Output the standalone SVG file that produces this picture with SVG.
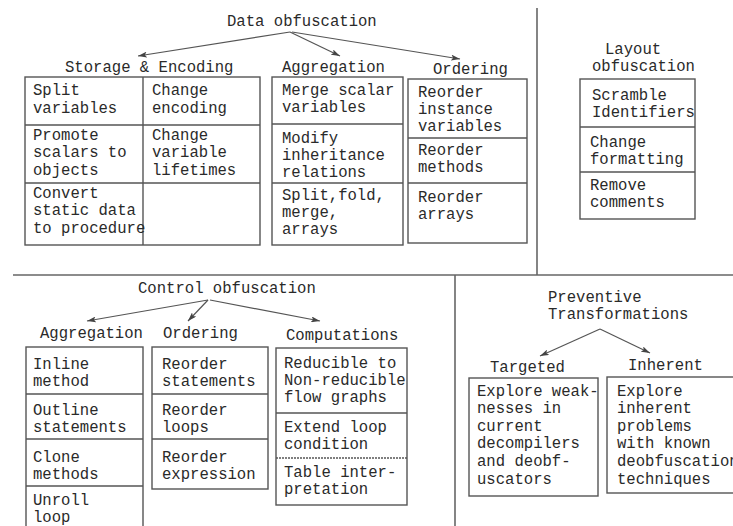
<svg xmlns="http://www.w3.org/2000/svg" width="733" height="526" viewBox="0 0 733 526">
<defs>
<style>
.t{font-family:"Liberation Mono","DejaVu Sans Mono",monospace;font-size:15.6px;fill:#2a2a2a}
.b{fill:none;stroke:#555;stroke-width:1.4}
.l{stroke:#555;stroke-width:1.4;fill:none}
.d{stroke:#666;stroke-width:1.6;fill:none}
.c{stroke:#555;stroke-width:1.2;fill:none;marker-end:url(#ah)}
</style>
<marker id="ah" markerUnits="userSpaceOnUse" markerWidth="9" markerHeight="6" refX="9" refY="3" orient="auto">
<path d="M0,0 L9,3 L0,6 L2,3 z" fill="#444"/>
</marker>
</defs>
<rect width="733" height="526" fill="#fff"/>
<g id="dividers">
<line class="d" x1="537" y1="8" x2="537" y2="275"/>
<line class="d" x1="13" y1="275" x2="733" y2="275"/>
<line class="d" x1="455" y1="275" x2="455" y2="526"/>
</g>
<g id="connectors">
<line class="c" x1="290" y1="32" x2="138" y2="56"/>
<line class="c" x1="290" y1="32" x2="340" y2="56"/>
<line class="c" x1="292" y1="32" x2="460" y2="59"/>
<line class="c" x1="208" y1="300" x2="87" y2="321"/>
<line class="c" x1="208" y1="300" x2="188" y2="321"/>
<line class="c" x1="210" y1="300" x2="320" y2="321"/>
<line class="c" x1="600" y1="329" x2="540" y2="356"/>
<line class="c" x1="600" y1="329" x2="650" y2="353"/>
</g>
<g id="data-obfuscation"><text class="t" x="227" y="26">Data obfuscation</text></g>
<g id="storage-encoding">
<text class="t" x="65" y="72">Storage &amp; Encoding</text>
<rect class="b" x="25" y="77" width="235" height="168"/>
<line class="l" x1="143" y1="77" x2="143" y2="245"/>
<line class="l" x1="25" y1="125" x2="260" y2="125"/>
<line class="l" x1="25" y1="183" x2="260" y2="183"/>
<text class="t" x="33" y="95">Split</text><text class="t" x="33" y="113">variables</text>
<text class="t" x="152" y="95">Change</text><text class="t" x="152" y="113">encoding</text>
<text class="t" x="33" y="140">Promote</text><text class="t" x="33" y="157">scalars to</text><text class="t" x="33" y="175">objects</text>
<text class="t" x="152" y="140">Change</text><text class="t" x="152" y="157">variable</text><text class="t" x="152" y="175">lifetimes</text>
<text class="t" x="33" y="198">Convert</text><text class="t" x="33" y="215">static data</text><text class="t" x="33" y="233">to procedure</text>
</g>
<g id="data-aggregation">
<text class="t" x="282" y="72">Aggregation</text>
<rect class="b" x="272" y="77" width="131" height="168"/>
<line class="l" x1="272" y1="124" x2="403" y2="124"/>
<line class="l" x1="272" y1="183" x2="403" y2="183"/>
<text class="t" x="282" y="95">Merge scalar</text><text class="t" x="282" y="112">variables</text>
<text class="t" x="282" y="143">Modify</text><text class="t" x="282" y="160">inheritance</text><text class="t" x="282" y="177">relations</text>
<text class="t" x="282" y="200">Split,fold,</text><text class="t" x="282" y="217">merge,</text><text class="t" x="282" y="234">arrays</text>
</g>
<g id="data-ordering">
<text class="t" x="433" y="74">Ordering</text>
<rect class="b" x="408" y="79" width="119" height="164"/>
<line class="l" x1="408" y1="138" x2="527" y2="138"/>
<line class="l" x1="408" y1="183" x2="527" y2="183"/>
<text class="t" x="418" y="97">Reorder</text><text class="t" x="418" y="114">instance</text><text class="t" x="418" y="131">variables</text>
<text class="t" x="418" y="155">Reorder</text><text class="t" x="418" y="172">methods</text>
<text class="t" x="418" y="202">Reorder</text><text class="t" x="418" y="219">arrays</text>
</g>
<g id="layout-obfuscation">
<text class="t" x="605" y="54">Layout</text>
<text class="t" x="592" y="71">obfuscation</text>
<rect class="b" x="580" y="79" width="115" height="140"/>
<line class="l" x1="580" y1="127" x2="695" y2="127"/>
<line class="l" x1="580" y1="172" x2="695" y2="172"/>
<text class="t" x="592" y="100">Scramble</text><text class="t" x="592" y="117">Identifiers</text>
<text class="t" x="590" y="147">Change</text><text class="t" x="590" y="164">formatting</text>
<text class="t" x="590" y="190">Remove</text><text class="t" x="590" y="207">comments</text>
</g>
<g id="control-obfuscation"><text class="t" x="138" y="293">Control obfuscation</text></g>
<g id="control-aggregation">
<text class="t" x="40" y="338">Aggregation</text>
<rect class="b" x="26" y="347" width="117" height="190"/>
<line class="l" x1="26" y1="394" x2="143" y2="394"/>
<line class="l" x1="26" y1="439" x2="143" y2="439"/>
<line class="l" x1="26" y1="486" x2="143" y2="486"/>
<text class="t" x="33" y="369">Inline</text><text class="t" x="33" y="386">method</text>
<text class="t" x="33" y="415">Outline</text><text class="t" x="33" y="432">statements</text>
<text class="t" x="33" y="462">Clone</text><text class="t" x="33" y="479">methods</text>
<text class="t" x="33" y="505">Unroll</text><text class="t" x="33" y="522">loop</text>
</g>
<g id="control-ordering">
<text class="t" x="163" y="338">Ordering</text>
<rect class="b" x="152" y="347" width="116" height="142"/>
<line class="l" x1="152" y1="394" x2="268" y2="394"/>
<line class="l" x1="152" y1="439" x2="268" y2="439"/>
<text class="t" x="162" y="369">Reorder</text><text class="t" x="162" y="386">statements</text>
<text class="t" x="162" y="415">Reorder</text><text class="t" x="162" y="432">loops</text>
<text class="t" x="162" y="462">Reorder</text><text class="t" x="162" y="479">expression</text>
</g>
<g id="control-computations">
<text class="t" x="286" y="340">Computations</text>
<rect class="b" x="276" y="348" width="131" height="157"/>
<line class="l" x1="276" y1="413" x2="407" y2="413"/>
<line class="l" x1="276" y1="458" x2="407" y2="458" stroke-dasharray="2 1"/>
<text class="t" x="284" y="368">Reducible to</text><text class="t" x="284" y="385">Non-reducible</text><text class="t" x="284" y="402">flow graphs</text>
<text class="t" x="284" y="432">Extend loop</text><text class="t" x="284" y="449">condition</text>
<text class="t" x="284" y="477">Table inter-</text><text class="t" x="284" y="494">pretation</text>
</g>
<g id="preventive-transformations">
<text class="t" x="548" y="302">Preventive</text>
<text class="t" x="548" y="319">Transformations</text>
</g>
<g id="targeted">
<text class="t" x="490" y="372">Targeted</text>
<rect class="b" x="469" y="378" width="129" height="118"/>
<text class="t" x="477" y="396">Explore weak-</text><text class="t" x="477" y="413">nesses in</text><text class="t" x="477" y="431">current</text>
<text class="t" x="477" y="448">decompilers</text><text class="t" x="477" y="466">and deobf-</text><text class="t" x="477" y="484">uscators</text>
</g>
<g id="inherent">
<text class="t" x="628" y="370">Inherent</text>
<rect class="b" x="607" y="377" width="140" height="116"/>
<text class="t" x="617" y="396">Explore</text><text class="t" x="617" y="413">inherent</text><text class="t" x="617" y="431">problems</text>
<text class="t" x="617" y="448">with known</text><text class="t" x="617" y="466">deobfuscation</text><text class="t" x="617" y="484">techniques</text>
</g>
</svg>
